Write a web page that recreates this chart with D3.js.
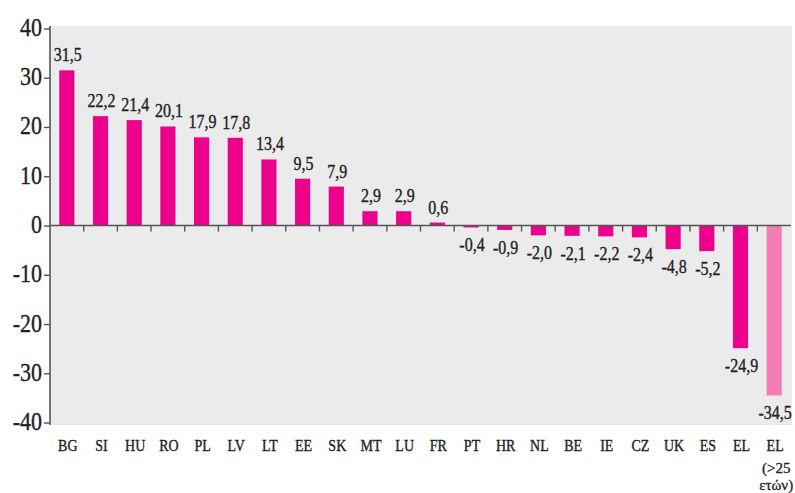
<!DOCTYPE html>
<html><head><meta charset="utf-8">
<script src="https://cdn.jsdelivr.net/npm/d3@7"></script>
<style>body{margin:0;background:#fff}svg{display:block}</style>
</head><body>
<svg id="c" width="795" height="493"></svg>
<script>
const categories = ["BG","SI","HU","RO","PL","LV","LT","EE","SK","MT","LU","FR","PT","HR","NL","BE","IE","CZ","UK","ES","EL","EL"];
const categoryExtra = {21: ["(>25", "ετών)"]};
const values = [31.5,22.2,21.4,20.1,17.9,17.8,13.4,9.5,7.9,2.9,2.9,0.6,-0.4,-0.9,-2.0,-2.1,-2.2,-2.4,-4.8,-5.2,-24.9,-34.5];
const yTicks = [-40,-30,-20,-10,0,10,20,30,40];

(function () {
const svg = d3.select("#c");
const pLeft = 50, pRight = 791, pTop = 26, pBottom = 425;
const font = "'Liberation Serif', 'DejaVu Serif', serif";
const textColor = "#222";

const x = d3.scaleBand().domain(d3.range(categories.length)).range([pLeft, pRight])
  .paddingInner(0.55).paddingOuter(0.275);
const y = d3.scaleLinear().domain([-40.5, 40.5]).range([pBottom, pTop]);

svg.append("rect").attr("x", pLeft).attr("y", pTop).attr("width", pRight - pLeft + 1).attr("height", pBottom - pTop)
  .attr("fill", "#ebebeb");

function txt(g, px, py, s, size, sy, anchor) {
  return g.append("text").attr("transform", `translate(${px},${py}) scale(1,${sy})`)
    .attr("text-anchor", anchor).attr("font-family", font).attr("font-size", size)
    .attr("fill", textColor).attr("stroke", textColor).attr("stroke-width", 0.3).text(s);
}

// bars
svg.append("g").selectAll("rect").data(values).join("rect")
  .attr("x", (d, i) => x(i))
  .attr("width", x.bandwidth())
  .attr("y", d => y(Math.max(0, d)))
  .attr("height", d => Math.abs(y(d) - y(0)))
  .attr("fill", (d, i) => i === values.length - 1 ? "#f47cb5" : "#ec008c");

// y axis
const yAxis = svg.append("g").attr("transform", `translate(${pLeft},0)`)
  .call(d3.axisLeft(y).tickValues(yTicks).tickSize(6).tickFormat(""));
yAxis.select(".domain").attr("d", `M0,${pTop}V${pBottom}`).attr("stroke", "#555").attr("stroke-width", 1.6);
yAxis.selectAll(".tick line").attr("stroke", "#555").attr("stroke-width", 1.4);
const yl = svg.append("g");
yTicks.forEach(t => {
  txt(yl, pLeft - 8, y(t) + 7.5, t, 22, 1.12, "end");
});

// zero line with category separators
const xAxisG = svg.append("g").attr("transform", `translate(0,${y(0)})`)
  .call(d3.axisBottom(x).tickSize(0).tickFormat(""));
xAxisG.select(".domain").attr("d", `M${pLeft},0H${pRight}`).attr("stroke", "#555").attr("stroke-width", 1.6);
xAxisG.selectAll(".tick").remove();
const step = x.step();
xAxisG.selectAll("line.sep").data(d3.range(1, categories.length)).join("line")
  .attr("class", "sep")
  .attr("x1", i => pLeft + i * step).attr("x2", i => pLeft + i * step)
  .attr("y1", 0).attr("y2", 6).attr("stroke", "#555").attr("stroke-width", 1.4);

// value labels
const fmt = v => v.toFixed(1).replace(".", ",");
const vl = svg.append("g");
values.forEach((v, i) => {
  const cx = x(i) + x.bandwidth() / 2 + 1;
  if (v >= 0) txt(vl, cx, y(v) - 9, fmt(v), 16, 1.15, "middle");
  else txt(vl, cx, y(v) + 24, fmt(v), 16, 1.15, "middle");
});

// category labels
const cl = svg.append("g");
categories.forEach((c, i) => {
  const cx = x(i) + x.bandwidth() / 2 + 1;
  txt(cl, cx, 451, c, 14, 1.25, "middle");
  (categoryExtra[i] || []).forEach((s, k) => {
    txt(cl, cx + 1, 473 + k * 17, s, 15, 1, "middle");
  });
});
})();
</script>
</body></html>
